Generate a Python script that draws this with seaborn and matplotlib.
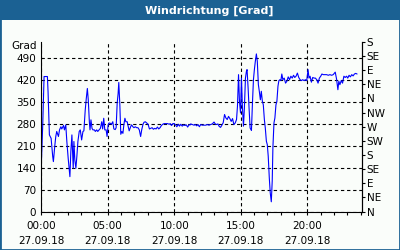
import matplotlib
matplotlib.use("Agg")
import matplotlib.pyplot as plt
from matplotlib.patches import Rectangle
import seaborn as sns
import pandas as pd

hours = [0.00, 0.13, 0.23, 0.48, 0.53, 0.63, 0.76, 0.88, 0.93, 1.03, 1.11, 1.18, 1.31, 1.39, 1.49,
         1.56, 1.69, 1.76, 1.86, 1.94, 2.04, 2.12, 2.17, 2.24, 2.32, 2.42, 2.47, 2.54, 2.62, 2.70,
         2.77, 2.87, 2.95, 3.05, 3.15, 3.22, 3.32, 3.40, 3.48, 3.55, 3.63, 3.68, 3.75, 3.83, 3.90,
         4.01, 4.08, 4.18, 4.26, 4.36, 4.46, 4.56, 4.63, 4.71, 4.79, 4.89, 4.96, 5.04, 5.11, 5.21,
         5.29, 5.39, 5.47, 5.57, 5.64, 5.72, 5.79, 5.84, 5.92, 5.99, 6.07, 6.15, 6.22, 6.30, 6.37,
         6.47, 6.55, 6.62, 6.73, 6.80, 6.90, 6.98, 7.08, 7.18, 7.28, 7.38, 7.48, 7.56, 7.66, 7.73,
         7.83, 7.93, 8.04, 8.14, 8.24, 8.34, 8.44, 8.54, 8.64, 8.74, 8.84, 8.94, 9.04, 9.14, 9.24,
         9.37, 9.50, 9.62, 9.70, 9.80, 9.90, 10.00, 10.10, 10.20, 10.30, 10.40, 10.50, 10.60, 10.71,
         10.81, 10.91, 11.01, 11.11, 11.21,
         11.24, 11.37, 11.49, 11.59, 11.69, 11.79, 11.89, 11.99, 12.11, 12.24, 12.36, 12.49, 12.61,
         12.74, 12.86, 12.99, 13.08, 13.18, 13.28, 13.38, 13.48, 13.58, 13.68, 13.78, 13.88, 13.98,
         14.08, 14.18, 14.28, 14.38, 14.48, 14.58, 14.68, 14.75, 14.83, 14.90, 14.98, 15.05, 15.12,
         15.20, 15.27, 15.35, 15.42, 15.47, 15.55, 15.62, 15.70, 15.80, 15.87, 15.95, 16.02, 16.09,
         16.17, 16.24, 16.32, 16.39, 16.47, 16.54, 16.62, 16.69, 16.77, 16.84, 16.92, 16.99, 17.06,
         17.14, 17.21, 17.29, 17.36, 17.41, 17.49, 17.56, 17.64, 17.71, 17.79, 17.86, 17.94, 18.01,
         18.08, 18.16, 18.26, 18.36, 18.46, 18.56, 18.66, 18.76, 18.86, 18.96, 19.05, 19.15, 19.25,
         19.35, 19.45, 19.55, 19.65, 19.75, 19.85, 19.95, 20.05, 20.12, 20.20, 20.30, 20.40, 20.50,
         20.60, 20.70, 20.80, 20.90, 21.00, 21.09, 21.19, 21.32, 21.44, 21.57, 21.69, 21.82, 21.94,
         22.09, 22.19, 22.29, 22.36, 22.44, 22.54, 22.64, 22.74, 22.84, 22.94, 23.03, 23.13, 23.23,
         23.33, 23.43, 23.53, 23.63, 23.73]

direction = [122, 276, 430, 430, 382, 244, 233, 175, 159, 207, 239, 255, 239, 260, 270,
             263, 274, 260, 276, 223, 170, 133, 111, 191, 244, 138, 223, 164, 138, 180,
             223, 255, 260, 228, 255, 257, 323, 360, 392, 355, 286, 260, 292, 265, 260,
             260, 255, 260, 255, 260, 265, 286, 263, 297, 260, 260, 239, 276, 282, 281,
             278, 286, 263, 261, 267, 345, 376, 411, 339, 246, 255, 249, 276, 297, 286,
             286, 270, 257, 270, 276, 270, 267, 270, 267, 267, 260, 239, 260, 278, 284,
             286, 282, 278, 263, 265, 267, 262, 265, 263, 269, 263, 267, 274, 278, 280,
             280, 280, 278, 280, 274, 280, 280, 276, 270, 278, 272, 278, 272, 276,
             274, 276, 269, 276, 276,
             279, 277, 275, 277, 273, 277, 270, 277, 275, 275, 275, 277, 275,
             277, 279, 285, 279, 277, 279, 271, 268, 275, 283, 309, 298, 293,
             303, 296, 287, 296, 277, 282, 293, 335, 436, 351, 314, 425, 335,
             272, 330, 425, 446, 452, 393, 330, 266, 258, 340, 420, 452, 478,
             502, 478, 404, 383, 356, 383, 351, 340, 293, 266, 224, 213, 176,
             107, 60, 31, 97, 203, 282, 298, 340, 351, 399, 417, 420, 417,
             438, 420, 425, 409, 415, 429, 420, 431, 425, 434, 427, 431, 441,
             427, 420, 417, 420, 417, 420, 417, 452, 425, 431, 412, 427, 425,
             425, 420, 409, 425, 431, 438, 436, 436, 436, 434, 436, 434, 436,
             444, 422, 388, 415, 404, 417, 409, 431, 427, 431, 425, 434, 429,
             436, 432, 438, 440, 438]

left_ticks = [0, 70, 140, 210, 280, 350, 420, 490]
compass_ticks = [0, 45, 90, 135, 180, 225, 270, 315, 360, 405, 450, 495, 540]
compass_labels = ["N", "NE", "E", "SE", "S", "SW", "W", "NW", "N", "NE", "E", "SE", "S"]
major_hours = [0, 5, 10, 15, 20]
major_labels = ["00:00\n27.09.18", "05:00\n27.09.18", "10:00\n27.09.18",
                "15:00\n27.09.18", "20:00\n27.09.18"]
title = "Windrichtung [Grad]"
unit = "Grad"

sns.set_theme(style="white")
plt.rcParams['font.family'] = ['DejaVu Sans']

BLUE = "#1b6193"
BG = "#fafdfa"

fig = plt.figure(figsize=(4, 2.5), dpi=100, facecolor=BG)
ax = fig.add_axes([41 / 400, 1 - 211.5 / 250, 321 / 400, 169.5 / 250])
ax.set_facecolor(BG)

df = pd.DataFrame({"hour": hours, "dir": direction})
sns.lineplot(data=df, x="hour", y="dir", ax=ax, color="#0000ff", linewidth=0.8,
             estimator=None, sort=False)

ax.set_xlim(0, 24.1)
ax.set_ylim(0, 540)
ax.set_xlabel("")
ax.set_ylabel("")

ax.spines["top"].set_visible(False)
for s in ["left", "bottom", "right"]:
    ax.spines[s].set_color("black")
    ax.spines[s].set_linewidth(0.8)

ax.set_yticks(left_ticks)
ax.set_yticklabels([str(v) for v in left_ticks], fontsize=7.5, color="black")
ax.tick_params(axis="y", which="both", left=False, right=False, length=0, pad=3.5)

ax.set_xticks(major_hours)
ax.set_xticklabels(major_labels, fontsize=7.5, color="black", linespacing=1.6)
ax.set_xticks(list(range(0, 25)), minor=True)
ax.tick_params(axis="x", which="both", bottom=True, direction="out", length=2.5,
               width=0.8, color="black", pad=4.5)

ax.grid(True, which="major", color="black", linestyle=(0, (3, 2.5)), linewidth=0.8)
ax.grid(False, which="minor")

fig.text(37 / 400, 1 - 46 / 250, unit, ha="right", va="center", fontsize=7.5, color="black")

ax2 = ax.twinx()
ax2.set_ylim(0, 540)
ax2.set_yticks(compass_ticks)
ax2.set_yticklabels(compass_labels, fontsize=7.5, color="black")
ax2.tick_params(axis="y", right=True, direction="out", length=2.5, width=0.8,
                color="black", pad=1)
ax2.grid(False)
for s in ["top", "left", "bottom"]:
    ax2.spines[s].set_visible(False)
ax2.spines["right"].set_color("black")
ax2.spines["right"].set_linewidth(0.8)

fig.patches.append(Rectangle((0, 1 - 20 / 250), 1, 20 / 250, transform=fig.transFigure,
                             facecolor=BLUE, edgecolor="none", zorder=0))
fig.patches.append(Rectangle((0, 0), 1, 1, transform=fig.transFigure, facecolor="none",
                             edgecolor=BLUE, linewidth=2.0, zorder=5))
fig.text(209 / 400, 1 - 10.5 / 250, title, ha="center", va="center", fontsize=8,
         fontweight="bold", color="white")

fig.savefig("out.png", dpi=100, facecolor=BG)
